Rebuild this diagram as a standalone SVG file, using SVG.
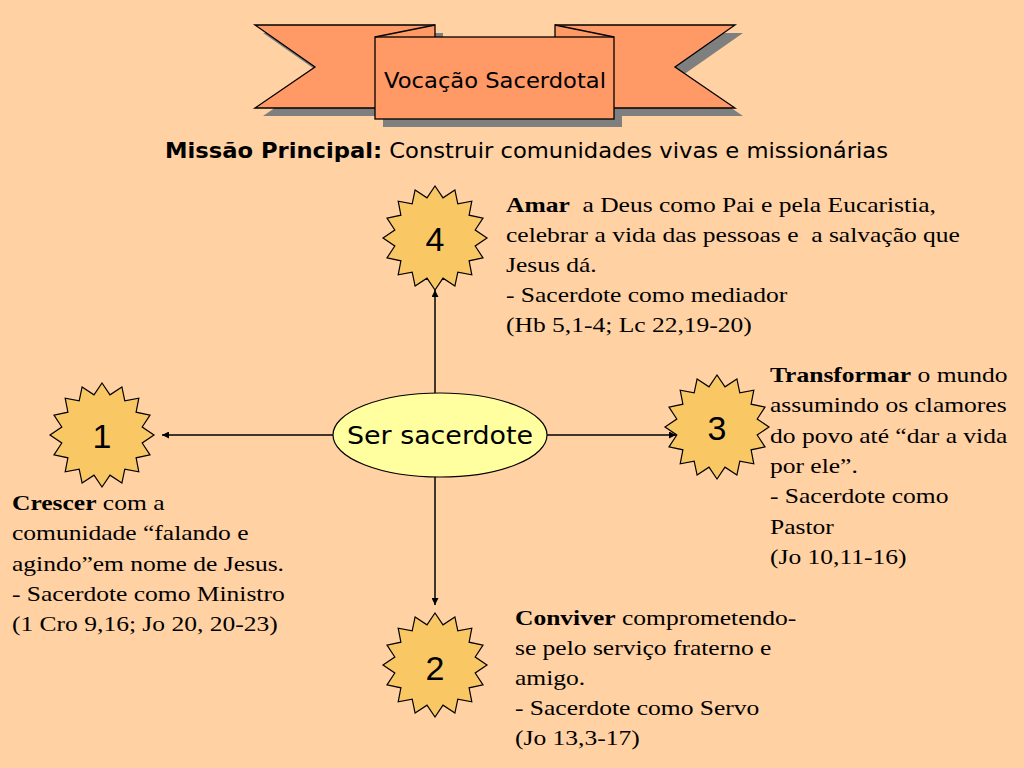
<svg xmlns="http://www.w3.org/2000/svg" width="1024" height="768" viewBox="0 0 1024 768">
<defs>
<style>
.bg{fill:#FFD1A3}
.rib{fill:#FF9966;stroke:#000;stroke-width:1.3}
.shd{fill:#7F7F7F}
.star{fill:#F9C865;stroke:#000;stroke-width:1.2}
.num{font-family:"Liberation Sans",Arial,sans-serif;font-size:34px;fill:#000;text-anchor:middle}
.comic{font-family:"DejaVu Sans",sans-serif;fill:#000}
.body{font-family:"Liberation Serif","Times New Roman",serif;font-size:22px;fill:#000;white-space:pre}
.conn{stroke:#000;stroke-width:1.5;fill:none;marker-end:url(#arr)}
</style>
<marker id="arr" viewBox="0 0 10 10" refX="10" refY="5" markerWidth="7" markerHeight="7" orient="auto" markerUnits="userSpaceOnUse">
<path d="M0,0 L10,5 L0,10 Z" fill="#000"/>
</marker>
<polygon id="starShape" points="0,-52 8,-40.2 19.9,-48 22.8,-34.1 36.8,-36.8 34.1,-22.8 48,-19.9 40.2,-8 52,0 40.2,8 48,19.9 34.1,22.8 36.8,36.8 22.8,34.1 19.9,48 8,40.2 0,52 -8,40.2 -19.9,48 -22.8,34.1 -36.8,36.8 -34.1,22.8 -48,19.9 -40.2,8 -52,0 -40.2,-8 -48,-19.9 -34.1,-22.8 -36.8,-36.8 -22.8,-34.1 -19.9,-48 -8,-40.2"/>
</defs>
<rect class="bg" x="0" y="0" width="1024" height="768"/>

<g id="banner">
<g transform="translate(8,8)">
<polygon class="shd" points="255,25 435,25 435,108 255,108 315,67"/>
<polygon class="shd" points="555,25 735,25 675,67 735,108 555,108"/>
<rect class="shd" x="375" y="37" width="239" height="82"/>
</g>
<polygon class="rib" points="255,25 435,25 435,108 255,108 315,67"/>
<polygon class="rib" points="555,25 735,25 675,67 735,108 555,108"/>
<rect class="rib" x="375" y="37" width="239" height="82"/>
<line x1="375" y1="37" x2="435" y2="25" stroke="#000" stroke-width="1.3"/>
<line x1="614" y1="37" x2="555" y2="25" stroke="#000" stroke-width="1.3"/>
<text class="comic" x="495" y="88" font-size="22" text-anchor="middle" textLength="222" lengthAdjust="spacingAndGlyphs">Vocação Sacerdotal</text>
</g>

<g id="subtitle">
<text class="comic" x="165" y="158" font-size="21" textLength="723" lengthAdjust="spacingAndGlyphs"><tspan font-weight="bold">Missão Principal:</tspan> Construir comunidades vivas e missionárias</text>
</g>

<g id="connectors">
<line class="conn" x1="435" y1="393" x2="435" y2="290"/>
<line class="conn" x1="435" y1="477" x2="435" y2="605"/>
<line class="conn" x1="333" y1="435" x2="162" y2="435"/>
<line class="conn" x1="547" y1="435" x2="676" y2="435"/>
</g>

<g id="center">
<ellipse cx="440" cy="435" rx="107" ry="42" fill="#FFFFA0" stroke="#000" stroke-width="1.2"/>
<text class="comic" x="440" y="444" font-size="24" text-anchor="middle" textLength="186" lengthAdjust="spacingAndGlyphs">Ser sacerdote</text>
</g>

<g id="star4">
<use href="#starShape" class="star" transform="translate(435,238)"/>
<text class="num" x="435" y="251">4</text>
</g>
<g id="star1">
<use href="#starShape" class="star" transform="translate(102,435)"/>
<text class="num" x="102" y="448">1</text>
</g>
<g id="star3">
<use href="#starShape" class="star" transform="translate(717,427)"/>
<text class="num" x="717" y="440">3</text>
</g>
<g id="star2">
<use href="#starShape" class="star" transform="translate(435,665)"/>
<text class="num" x="435" y="680">2</text>
</g>

<g id="text4" transform="translate(506,0) scale(1.16,1) translate(-506,0)">
<text class="body">
<tspan x="506" y="212"><tspan font-weight="bold">Amar</tspan>  a Deus como Pai e pela Eucaristia,</tspan>
<tspan x="506" y="242">celebrar a vida das pessoas e  a salvação que</tspan>
<tspan x="506" y="272">Jesus dá.</tspan>
<tspan x="506" y="302">- Sacerdote como mediador</tspan>
<tspan x="506" y="332">(Hb 5,1-4; Lc 22,19-20)</tspan>
</text>
</g>

<g id="text3" transform="translate(770,0) scale(1.16,1) translate(-770,0)">
<text class="body">
<tspan x="770" y="382"><tspan font-weight="bold">Transformar</tspan> o mundo</tspan>
<tspan x="770" y="412">assumindo os clamores</tspan>
<tspan x="770" y="443">do povo até “dar a vida</tspan>
<tspan x="770" y="473">por ele”.</tspan>
<tspan x="770" y="503">- Sacerdote como</tspan>
<tspan x="770" y="534">Pastor</tspan>
<tspan x="770" y="564">(Jo 10,11-16)</tspan>
</text>
</g>

<g id="text1" transform="translate(12,0) scale(1.16,1) translate(-12,0)">
<text class="body">
<tspan x="12" y="510"><tspan font-weight="bold">Crescer</tspan> com a</tspan>
<tspan x="12" y="540">comunidade “falando e</tspan>
<tspan x="12" y="571">agindo”em nome de Jesus.</tspan>
<tspan x="12" y="601">- Sacerdote como Ministro</tspan>
<tspan x="12" y="631">(1 Cro 9,16; Jo 20, 20-23)</tspan>
</text>
</g>

<g id="text2" transform="translate(515,0) scale(1.16,1) translate(-515,0)">
<text class="body">
<tspan x="515" y="625"><tspan font-weight="bold">Conviver</tspan> comprometendo-</tspan>
<tspan x="515" y="655">se pelo serviço fraterno e</tspan>
<tspan x="515" y="685">amigo.</tspan>
<tspan x="515" y="715">- Sacerdote como Servo</tspan>
<tspan x="515" y="745">(Jo 13,3-17)</tspan>
</text>
</g>
</svg>
